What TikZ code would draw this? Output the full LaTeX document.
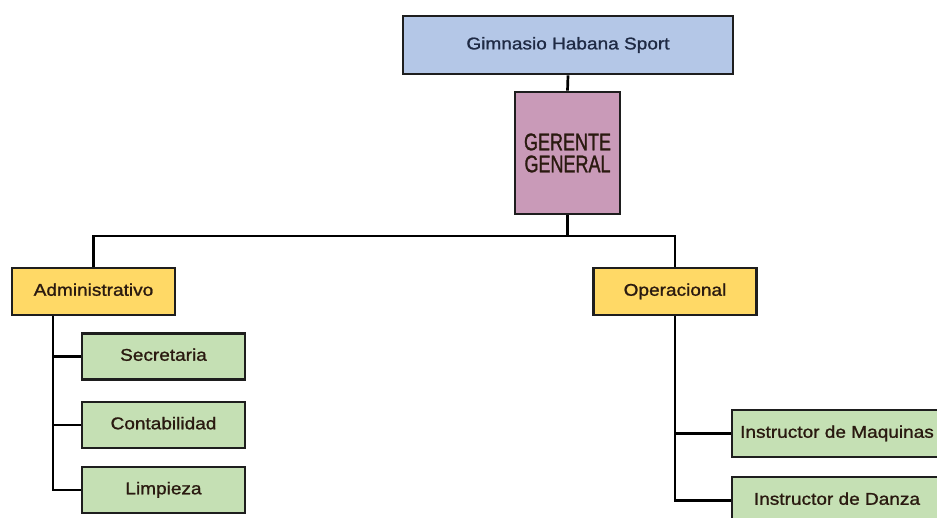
\documentclass[tikz,border=0pt]{standalone}
\usepackage{fontspec}
\setmainfont{Liberation Sans}[FakeStretch=1.12,FakeBold=1.2]
\newfontfamily\narrowfont{Liberation Sans}[FakeStretch=0.75,FakeBold=1.2]
\definecolor{boxline}{HTML}{1E1E1E}
\definecolor{topfill}{HTML}{B4C7E7}
\definecolor{gerfill}{HTML}{C99AB8}
\definecolor{deptfill}{HTML}{FFD966}
\definecolor{unitfill}{HTML}{C5E0B4}
\definecolor{txtblue}{HTML}{1F2A44}
\definecolor{txtdark}{HTML}{2A1A10}
\begin{document}
\begin{tikzpicture}[x=1pt,y=-1pt,
  orgbox/.style={draw=boxline, line width=2.7pt, inner sep=0pt, align=center},
  unitbox/.style={orgbox, fill=unitfill, minimum width=163pt, minimum height=46pt,
    font=\fontsize{17}{20}\selectfont, text=txtdark, text height=12pt, text depth=3.5pt},
  deptbox/.style={orgbox, fill=deptfill, minimum width=163pt, minimum height=47pt,
    font=\fontsize{17}{20}\selectfont, text=txtdark, text height=12pt, text depth=3.5pt},
  link/.style={draw=black, line width=2.7pt}]
  \useasboundingbox (0,0) rectangle (937,518);
  \fill[white] (0,0) rectangle (937,518);
  \clip (0,0) rectangle (937,518);

  % top of the chart
  \node[orgbox, fill=topfill, minimum width=330pt, minimum height=58pt,
        font=\fontsize{17}{20}\selectfont, text=txtblue] (top) at (568,45) {Gimnasio Habana Sport};
  \node[orgbox, fill=gerfill, minimum width=105pt, minimum height=122pt,
        font=\narrowfont\fontsize{24}{22}\selectfont, text=txtdark] (ger) at (567.5,153) {GERENTE\\GENERAL};

  % departments
  \node[deptbox] (adm) at (93.5,291.5) {Administrativo};
  \node[deptbox] (ope) at (675,291.5) {Operacional};

  % units under Administrativo
  \node[unitbox] (sec) at (163.5,356.5) {Secretaria};
  \node[unitbox] (con) at (163.5,425) {Contabilidad};
  \node[unitbox] (lim) at (163.5,490) {Limpieza};

  % units under Operacional
  \node[unitbox, minimum width=210pt, minimum height=47pt] (maq) at (837,433.5) {Instructor de Maquinas};
  \node[unitbox, minimum width=210pt, minimum height=47pt] (dan) at (837,500.5) {Instructor de Danza};

  % connectors
  \coordinate (bus) at (0,236);
  \coordinate (lt) at (53,0);
  \draw[link] (top.south) -- (ger.north);
  \draw[link] (ger.south) -- (ger.south |- bus);
  \draw[link] (adm.north) -- (adm.north |- bus) -| (ope.north);
  \draw[link] (lt |- adm.south) |- (lim.west);
  \draw[link] (lt |- sec.west) -- (sec.west);
  \draw[link] (lt |- con.west) -- (con.west);
  \draw[link] (ope.south) |- (dan.west);
  \draw[link] (ope.south |- maq.west) -- (maq.west);
\end{tikzpicture}
\end{document}
